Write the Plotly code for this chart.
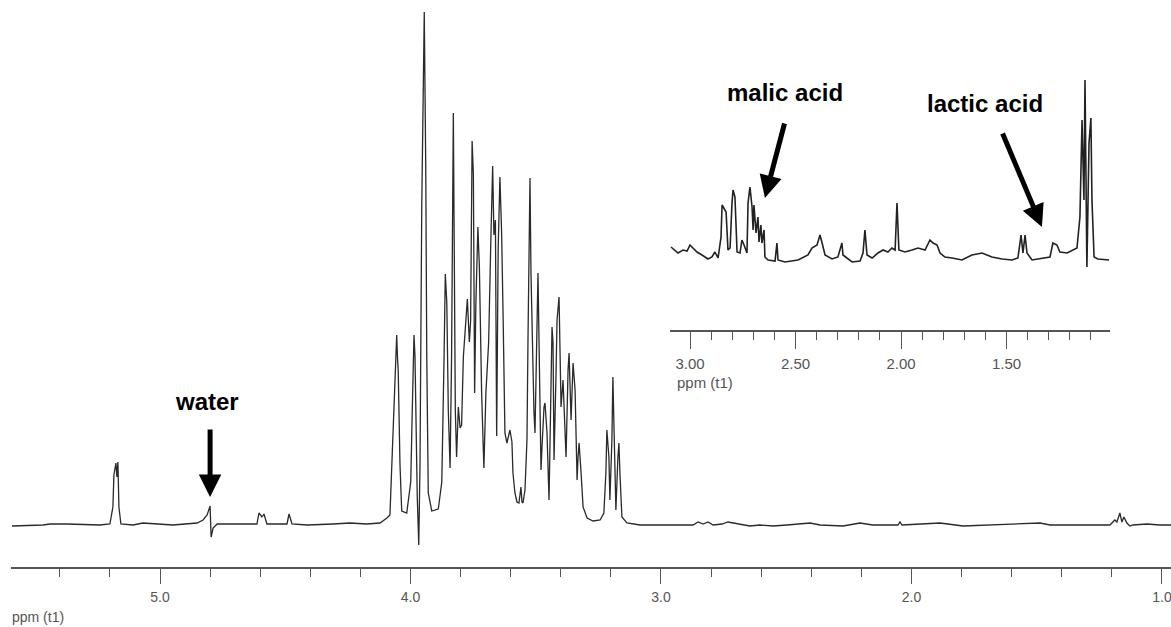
import plotly.graph_objects as go

# ---------------- data ----------------
main_ppm = [5.591, 5.467, 5.439, 5.371, 5.240, 5.200, 5.188, 5.184, 5.176, 5.172, 5.168, 5.164, 5.156,
            5.108, 5.068, 4.948, 4.852, 4.828, 4.812, 4.800, 4.796, 4.788, 4.772, 4.613, 4.605, 4.593,
            4.585, 4.573, 4.493, 4.485, 4.473, 4.413, 4.309, 4.242, 4.174, 4.122, 4.094,
            4.082, 4.069, 4.062, 4.055, 4.052, 4.049, 4.042, 4.035, 4.015, 3.999, 3.993, 3.986, 3.982,
            3.978, 3.973, 3.967, 3.962, 3.955, 3.949, 3.945, 3.939, 3.935, 3.929, 3.915, 3.889, 3.875,
            3.866, 3.861, 3.855, 3.849, 3.842, 3.836, 3.829, 3.825, 3.821, 3.816, 3.809, 3.802, 3.796,
            3.789, 3.778, 3.773, 3.765, 3.760, 3.754, 3.749, 3.744, 3.739, 3.731, 3.725, 3.716, 3.707,
            3.699, 3.693, 3.688, 3.680, 3.672, 3.667, 3.661, 3.656, 3.650, 3.643, 3.636, 3.630, 3.623,
            3.615, 3.603, 3.595, 3.591, 3.583, 3.575, 3.567, 3.559, 3.555, 3.551, 3.543, 3.535, 3.531,
            3.527, 3.523, 3.519, 3.511, 3.507, 3.503, 3.495, 3.491, 3.487, 3.479, 3.475, 3.467, 3.463,
            3.455, 3.447, 3.443, 3.435, 3.431, 3.427, 3.419, 3.415, 3.407, 3.403, 3.399, 3.391, 3.387,
            3.379, 3.371, 3.367, 3.359, 3.355, 3.351, 3.343, 3.335, 3.331, 3.327, 3.319, 3.311, 3.295,
            3.271, 3.243, 3.228, 3.220, 3.216, 3.208, 3.204, 3.196, 3.192, 3.188, 3.180, 3.172, 3.168,
            3.164, 3.156, 3.136, 3.084,
            2.872, 2.852, 2.832, 2.812, 2.792, 2.756, 2.733, 2.713, 2.685, 2.645, 2.605, 2.553, 2.497,
            2.457, 2.405, 2.365, 2.273, 2.206, 2.154, 2.054, 2.046, 2.038, 1.886, 1.794, 1.687, 1.487,
            1.447, 1.208, 1.188, 1.180, 1.168, 1.160, 1.152, 1.140, 1.128, 1.116, 1.060, 1.008, 0.964]
main_int = [-1, 0, 1, 1, 0, 1, 18, 50, 62, 48, 63, 18, 1,
            0, 2, 0, 2, 5, 10, 19, -12, -3, 1, 1, 12, 8,
            11, 1, 1, 11, 1, 0, 1, 2, 1, 2, 7,
            10, 97, 150, 190, 168, 154, 61, 14, 12, 43, 114, 190, 168,
            79, 28, -20, 61, 319, 468, 513, 355, 168, 32, 14, 16, 43,
            168, 251, 222, 114, 57, 168, 412, 276, 114, 68, 118, 97, 100,
            168, 204, 226, 183, 204, 384, 351, 132, 222, 298, 258, 132, 57,
            132, 168, 183, 276, 359, 290, 305, 89, 276, 348, 290, 204, 92,
            82, 95, 83, 52, 32, 23, 22, 38, 23, 22, 35, 85, 185,
            285, 347, 252, 132, 112, 92, 212, 252, 185, 55, 78, 118, 122,
            92, 25, 85, 198, 182, 65, 152, 205, 228, 152, 118, 145, 118,
            68, 155, 172, 105, 145, 162, 135, 45, 68, 82, 52, 18, 7,
            4, 5, 12, 52, 95, 68, 25, 85, 148, 102, 15, 68, 82,
            52, 8, 2, 0,
            0, 3, 1, 3, 0, 1, 3, 2, 1, -1, 0, -1, 0,
            1, 2, 0, -1, 2, 0, 0, 3, 0, 2, -1, 0, 2,
            0, 0, 5, 3, 12, 3, 8, 2, -1, 0, 1, 0, 0]

inset_ppm = [3.090, 3.057, 3.033, 3.014, 3.000, 2.986, 2.967, 2.943, 2.915, 2.896, 2.882, 2.867, 2.853,
             2.848, 2.839, 2.829, 2.820, 2.810, 2.801, 2.796, 2.787, 2.777, 2.763, 2.754, 2.744, 2.730,
             2.725, 2.716, 2.706, 2.701, 2.697, 2.687, 2.678, 2.673, 2.664, 2.659, 2.649, 2.645, 2.630,
             2.597, 2.588, 2.583, 2.550, 2.488, 2.441, 2.422, 2.398, 2.384, 2.374, 2.360, 2.327, 2.299,
             2.280, 2.275, 2.232, 2.194, 2.180, 2.171, 2.161, 2.137, 2.109, 2.085, 2.062, 2.043, 2.028,
             2.019, 2.010, 1.981, 1.948, 1.919, 1.886, 1.863, 1.848, 1.829, 1.815, 1.792, 1.758, 1.711,
             1.664, 1.616, 1.569, 1.521, 1.474, 1.446, 1.431, 1.422, 1.412, 1.403, 1.379, 1.332, 1.294,
             1.280, 1.261, 1.247, 1.213, 1.166, 1.152, 1.142, 1.133, 1.128, 1.119, 1.109, 1.100, 1.095,
             1.085, 1.067, 1.033, 1.014]
inset_int = [18, 12, 15, 14, 20, 17, 13, 10, 6, 8, 13, 7, 28,
             60, 57, 53, 15, 17, 62, 75, 68, 13, 12, 25, 20, 12,
             62, 78, 58, 35, 60, 32, 48, 23, 40, 22, 35, 8, 5,
             4, 22, 5, 3, 5, 10, 17, 20, 30, 22, 10, 6, 8,
             22, 10, 3, 4, 12, 35, 10, 7, 12, 15, 13, 17, 15,
             62, 15, 13, 15, 17, 15, 25, 22, 20, 12, 8, 7, 5,
             10, 12, 8, 6, 5, 7, 30, 12, 30, 12, 5, 7, 8,
             22, 20, 13, 12, 17, 48, 145, 65, 185, -2, 122, 147, 65,
             8, 6, 5, 5]

main_ticks = [5.0, 4.0, 3.0, 2.0, 1.0]
inset_ticks = [3.00, 2.50, 2.00, 1.50]
axis_title = "ppm (t1)"
labels = ["water", "malic acid", "lactic acid"]

# ---------------- figure ----------------
W, H = 1171, 627
AX = "#555555"
NARROW = "Liberation Sans Narrow, Arial Narrow, Liberation Sans, Arial, sans-serif"
SANS = "Liberation Sans, Arial, sans-serif"

fig = go.Figure()
fig.add_trace(go.Scatter(x=main_ppm, y=main_int, mode="lines",
                         line=dict(color="#2a2a2a", width=1.3), xaxis="x", yaxis="y",
                         showlegend=False, hoverinfo="skip"))
fig.add_trace(go.Scatter(x=inset_ppm, y=inset_int, mode="lines",
                         line=dict(color="#222222", width=1.6), xaxis="x2", yaxis="y2",
                         showlegend=False, hoverinfo="skip"))

main_axis = dict(
    domain=[11 / W, 1.0], range=[5.5948, 0.964], showgrid=False, zeroline=False,
    showline=True, linecolor=AX, linewidth=2, ticks="outside", tickcolor=AX,
    ticklen=15, tickwidth=1.2, tickmode="array", tickvals=main_ticks, tickformat=".1f",
    tickfont=dict(family=NARROW, size=14, color=AX), ticklabelstandoff=1,
    ticklabeloverflow="allow",
    minor=dict(dtick=0.2, tick0=0, ticks="outside", ticklen=8, tickwidth=1.2, tickcolor=AX,
               showgrid=False),
    anchor="y", fixedrange=True,
)
inset_axis = dict(
    domain=[670 / W, 1110 / W], range=[3.0948, 1.0095], showgrid=False, zeroline=False,
    showline=True, linecolor=AX, linewidth=2, ticks="outside", tickcolor=AX,
    ticklen=17, tickwidth=1.2, tickmode="array", tickvals=inset_ticks, tickformat=".2f",
    tickfont=dict(family=SANS, size=15, color=AX), ticklabelstandoff=2,
    minor=dict(dtick=0.1, tick0=0, ticks="outside", ticklen=8, tickwidth=1.2, tickcolor=AX,
               showgrid=False),
    anchor="y2", fixedrange=True,
)

fig.update_layout(
    width=W, height=H, margin=dict(l=0, r=0, t=0, b=0),
    paper_bgcolor="white", plot_bgcolor="white",
    xaxis=main_axis,
    yaxis=dict(domain=[(H - 567) / H, 1.0], range=[-42, 525], visible=False, fixedrange=True),
    xaxis2=inset_axis,
    yaxis2=dict(domain=[(H - 330) / H, (H - 60) / H], range=[-65, 205], visible=False,
                anchor="x2", fixedrange=True),
)

ann = []
# axis titles
ann.append(dict(text=axis_title, xref="paper", yref="paper", x=10 / W, y=(H - 617) / H,
                xanchor="left", yanchor="middle", showarrow=False,
                font=dict(family=NARROW, size=14, color=AX)))
ann.append(dict(text=axis_title, xref="paper", yref="paper", x=675 / W, y=(H - 382) / H,
                xanchor="left", yanchor="middle", showarrow=False,
                font=dict(family=SANS, size=15, color=AX)))
# labels
bold = dict(family=SANS, size=24, color="black")
ann.append(dict(text="<b>%s</b>" % labels[0], xref="x", yref="y", x=4.812, y=124,
                showarrow=False, font=bold))
ann.append(dict(text="<b>%s</b>" % labels[1], xref="x2", yref="y2", x=2.550, y=173,
                showarrow=False, font=bold))
ann.append(dict(text="<b>%s</b>" % labels[2], xref="x2", yref="y2", x=1.602, y=162,
                showarrow=False, font=bold))
# arrows
arrow = dict(text="", showarrow=True, arrowhead=2, arrowsize=0.9, arrowwidth=5,
             arrowcolor="black", axref="pixel", ayref="pixel", standoff=0)
ann.append(dict(arrow, xref="x", yref="y", x=4.80, y=28, ax=0, ay=-69))
ann.append(dict(arrow, xref="x2", yref="y2", x=2.645, y=67, ax=20, ay=-76))
ann.append(dict(arrow, xref="x2", yref="y2", x=1.332, y=38, ax=-40, ay=-95))
fig.update_layout(annotations=ann)

fig.write_html("out.html")
